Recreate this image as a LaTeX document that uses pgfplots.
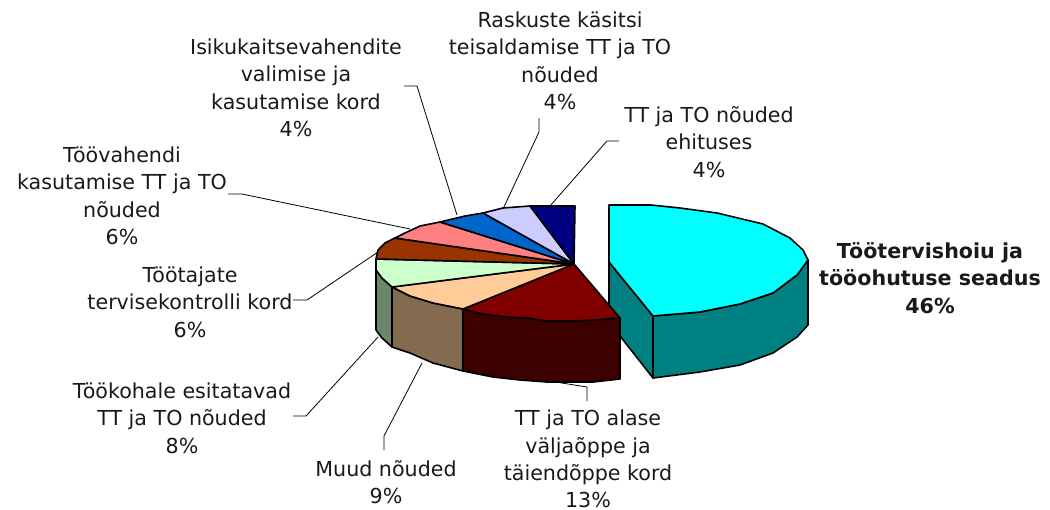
\documentclass[border=0pt]{standalone}
\usepackage{pgfplots}
\pgfplotsset{compat=1.18}
\usepackage{fontspec}
\setmainfont{DejaVu Sans}
\newcommand{\lab}[3]{\node[align=center,anchor=center,inner sep=0pt,font=\fontsize{20.7}{27.5}\selectfont,text=black!90] at (axis cs:#1,#2) {#3};}
\pgfplotsset{pie/.style={fill=#1,draw=black,line width=1.6bp,line join=round,no markers},
leader/.style={draw=black,line width=0.8bp,no markers,line join=miter}}
\definecolor{cCy}{HTML}{00FFFF}\definecolor{cCyS}{HTML}{008080}
\definecolor{cMa}{HTML}{800000}\definecolor{cMaS}{HTML}{3C0000}
\definecolor{cPe}{HTML}{FFCC99}\definecolor{cPeS}{HTML}{846B50}
\definecolor{cGr}{HTML}{CCFFCC}\definecolor{cGrS}{HTML}{6B866B}
\definecolor{cBr}{HTML}{993300}\definecolor{cPi}{HTML}{FF8080}
\definecolor{cBl}{HTML}{0066CC}\definecolor{cLa}{HTML}{CCCCFF}\definecolor{cNa}{HTML}{000080}
\begin{document}
\begin{tikzpicture}
\begin{axis}[name=ax,scale only axis,width=1050bp,height=509bp,xmin=0,xmax=1050,ymin=0,ymax=509,y dir=reverse,hide axis,clip=false]
% leaders
\addplot[leader] coordinates {(404,86)(417,86)(457,215)};
\addplot[leader] coordinates {(539,118)(539,132)(503,209)};
\addplot[leader] coordinates {(619,141)(607,141)(550,206)};
\addplot[leader] coordinates {(228,194)(242,194)(410,229)};
\addplot[leader] coordinates {(293,300)(307,300)(378,252)};
\addplot[leader] coordinates {(293,416)(306,416)(378,337)};
\addplot[leader] coordinates {(384,450)(384,436)(422,363)};
\addplot[leader] coordinates {(587,401)(587,387)(543,380)};
% cyan slice
\addplot[pie=cCyS] coordinates {(609,262)(609,322)(653,378)(653,316)(609,262)};
\addplot[pie=cCyS] coordinates {(653,316)(653,378)(700,372)(740,365)(773,353)(797,337)(808,325)(808,260)(797,275)(773,293)(740,304)(700,312)(653,316)};
\addplot[pie=cCy] coordinates {(609,262)(609,205)(651,205)(680,208)(717,213)(763,224)(790,238)(803,250)(808,260)(797,275)(773,293)(740,304)(700,312)(653,316)(609,262)};
% side walls
\addplot[pie=cGrS] coordinates {(376,259)(376,330)(382,338)(392,347)(392,287)(382,278)(376,270)(376,259)};
\addplot[pie=cPeS] coordinates {(392,287)(410,296)(433,303)(463,309)(463,371)(433,363)(410,353)(392,347)(392,287)};
\addplot[pie=cMaS] coordinates {(463,309)(483,314)(507,317)(527,318)(547,321)(573,321)(593,320)(620,318)(620,379)(593,382)(573,382)(547,382)(520,380)(493,377)(463,371)(463,309)};
% top
\addplot[pie=cMa] coordinates {(574,264)(620,318)(593,320)(573,321)(547,321)(527,318)(507,317)(483,314)(463,309)(574,264)};
\addplot[pie=cPe] coordinates {(574,264)(463,309)(433,303)(410,296)(392,287)(574,264)};
\addplot[pie=cGr] coordinates {(574,264)(392,287)(382,278)(376,270)(376,259)(574,264)};
\addplot[pie=cBr] coordinates {(574,264)(376,259)(378,250)(385,243)(395,238)(574,264)};
\addplot[pie=cPi] coordinates {(574,264)(395,238)(405,233)(420,226)(440,222)(574,264)};
\addplot[pie=cBl] coordinates {(574,264)(440,222)(465,216)(483,213)(574,264)};
\addplot[pie=cLa] coordinates {(574,264)(483,213)(503,208)(530,206)(574,264)};
\addplot[pie=cNa] coordinates {(574,264)(530,206)(575,206)(574,264)};
% labels
\lab{296}{88}{Isikukaitsevahendite\\valimise ja\\kasutamise kord\\4\%}
\lab{560}{61}{Raskuste käsitsi\\teisaldamise TT ja TO\\nõuded\\4\%}
\lab{709}{142}{TT ja TO nõuded\\ehituses\\4\%}
\lab{122}{196}{Töövahendi\\kasutamise TT ja TO\\nõuded\\6\%}
\lab{190}{302}{Töötajate\\tervisekontrolli kord\\6\%}
\lab{182}{418}{Töökohale esitatavad\\TT ja TO nõuded\\8\%}
\lab{386}{482}{Muud nõuded\\9\%}
\lab{588}{459}{TT ja TO alase\\väljaõppe ja\\täiendõppe kord\\13\%}
\node[align=center,anchor=center,inner sep=0pt,font=\fontsize{20.7}{27.5}\selectfont\bfseries,text=black!90] at (axis cs:930,278) {Töötervishoiu ja\\tööohutuse seadus\\46\%};
\end{axis}
\pgfresetboundingbox
\useasboundingbox (ax.south west) rectangle (ax.north east);
\end{tikzpicture}
\end{document}
